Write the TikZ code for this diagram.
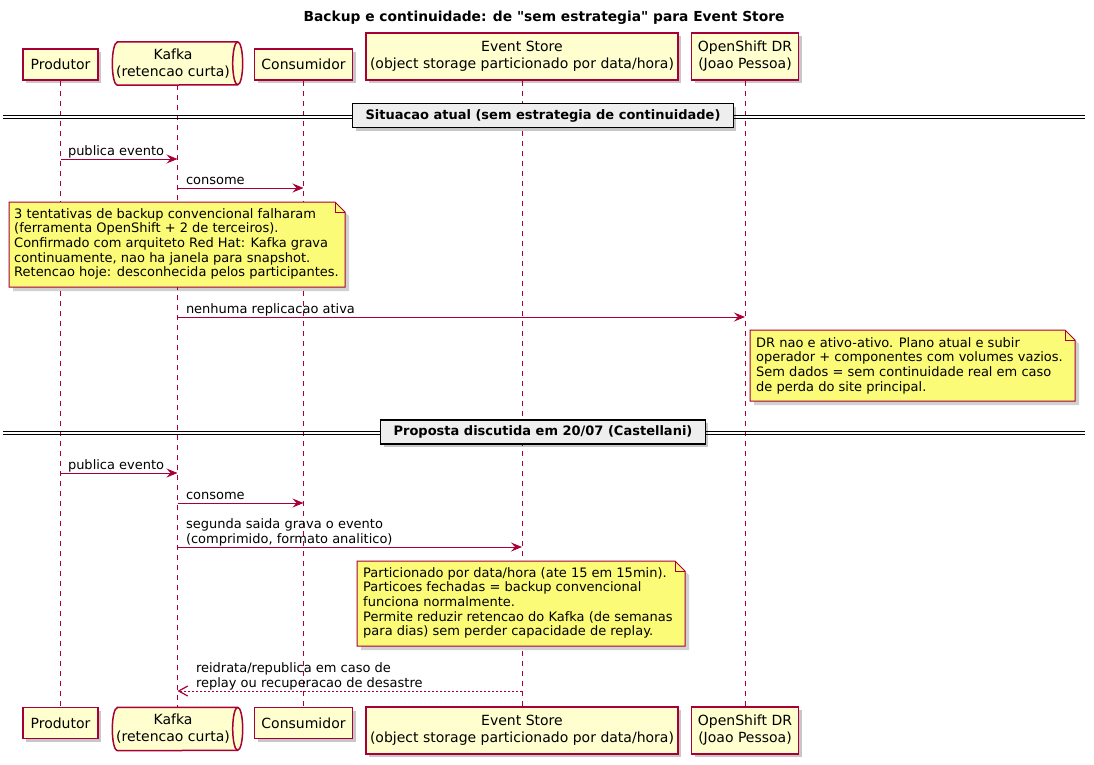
\documentclass[tikz,border=0pt]{standalone}
\usepackage{fontspec}
\setmainfont{DejaVu Sans}[Ligatures=TeXOff]
\usetikzlibrary{arrows.meta,shadows,calc}
\definecolor{pcol}{HTML}{A80036}
\definecolor{pfill}{HTML}{FEFECE}
\definecolor{nfill}{HTML}{FBFB77}
\definecolor{sfill}{HTML}{EEEEEE}
\newcommand\drawnote[4]{%
  \fill[black,opacity=.18] (#1+4,#2+4) -- (#3+4-10,#2+4) -- (#3+4,#2+4+10) -- (#3+4,#4+4) -- (#1+4,#4+4) -- cycle;
  \draw[notebox] (#1,#2) -- (#3-10,#2) -- (#3,#2+10) -- (#3,#4) -- (#1,#4) -- cycle;
  \draw[notebox,fill=none] (#3-10,#2) -- (#3-10,#2+10) -- (#3,#2+10);}
\newcommand\drawqueue[1]{%
  \fill[black,opacity=.2,shift={(3,3)}] ($(#1.north west)+(5,0)$) -- ($(#1.north east)+(-5,0)$) arc[start angle=-90,end angle=90,x radius=5,y radius=21.5] -- ($(#1.south west)+(5,0)$) arc[start angle=90,end angle=270,x radius=5,y radius=21.5] -- cycle;
  \draw[draw=pcol,fill=pfill,line width=1.5pt] ($(#1.north west)+(5,0)$) -- ($(#1.north east)+(-5,0)$) arc[start angle=-90,end angle=90,x radius=5,y radius=21.5] -- ($(#1.south west)+(5,0)$) arc[start angle=90,end angle=270,x radius=5,y radius=21.5] -- cycle;
  \draw[draw=pcol,line width=1.5pt] ($(#1.north east)+(-5,0)$) arc[start angle=270,end angle=90,x radius=5,y radius=21.5];}
\begin{document}
\begin{tikzpicture}[x=1pt,y=-1pt,
  pshadow/.style={drop shadow={shadow xshift=3pt,shadow yshift=-3pt,fill=black,opacity=0.22}},
  part/.style={draw=pcol,fill=pfill,line width=1.5pt,inner sep=0pt,align=center,font=\fontsize{14}{17}\selectfont,pshadow},
  ptext/.style={inner sep=0pt,align=center,font=\fontsize{14}{17}\selectfont},
  life/.style={draw=pcol,line width=1pt,dash pattern=on 5pt off 5pt},
  msg/.style={draw=pcol,line width=1pt,-{Stealth[length=11pt,width=9pt,inset=4pt]}},
  ret/.style={draw=pcol,line width=1pt,dash pattern=on 2pt off 2pt,-{Straight Barb[length=9pt,width=10pt,line width=1.2pt]}},
  lbl/.style={inner sep=0pt,align=left,font=\fontsize{13}{15}\selectfont,execute at end node=\strut,text=black},
  notebox/.style={draw=pcol,fill=nfill,line width=1pt},
  notetext/.style={inner sep=0pt,align=left,font=\fontsize{13}{14.7}\selectfont,execute at begin node=\strut,execute at end node=\strut},
  sepbox/.style={draw=black,fill=sfill,line width=1.5pt,inner xsep=13pt,inner ysep=0pt,minimum height=24pt,font=\bfseries\fontsize{13}{15}\selectfont,pshadow},
  sepline/.style={draw=black,line width=1pt}]
\useasboundingbox[fill=white] (0,0) rectangle (1094,764);

\node[font=\bfseries\fontsize{13.8}{17}\selectfont] (title) at (544,18) {Backup e continuidade: de "sem estrategia" para Event Store};

% participants top
\node[part,minimum width=75pt,minimum height=31pt] (prodT) at (60.5,64.5) {Produtor};
\node[inner sep=0pt,minimum width=130pt,minimum height=43pt] (kafT) at (177.5,63.5) {};
\drawqueue{kafT}
\node[ptext] (kafTt) at (173,63.5) {Kafka\\(retencao curta)};
\node[part,minimum width=98pt,minimum height=31pt] (consT) at (303.5,64.5) {Consumidor};
\node[part,minimum width=312pt,minimum height=47pt] (esT) at (522,56.5) {Event Store\\(object storage particionado por data/hora)};
\node[part,minimum width=107pt,minimum height=47pt] (drT) at (745,56.5) {OpenShift DR\\(Joao Pessoa)};

% participants bottom
\node[part,minimum width=75pt,minimum height=31pt] (prodB) at (60.5,723) {Produtor};
\node[inner sep=0pt,minimum width=130pt,minimum height=43pt] (kafB) at (177.5,729) {};
\drawqueue{kafB}
\node[ptext] (kafBt) at (173,729) {Kafka\\(retencao curta)};
\node[part,minimum width=98pt,minimum height=31pt] (consB) at (303.5,723) {Consumidor};
\node[part,minimum width=312pt,minimum height=47pt] (esB) at (522,730.5) {Event Store\\(object storage particionado por data/hora)};
\node[part,minimum width=107pt,minimum height=47pt] (drB) at (745,730.5) {OpenShift DR\\(Joao Pessoa)};

% lifelines
\draw[life] (prodT.south) -- (prodB.north);
\draw[life] (kafT.south) -- (kafB.north);
\draw[life] (consT.south) -- (consB.north);
\draw[life] (esT.south) -- (esB.north);
\draw[life] (drT.south) -- (drB.north);

% separator 1
\draw[sepline] (3,115) -- (1085,115);
\draw[sepline] (3,118.5) -- (1085,118.5);
\node[sepbox] (sep1) at (543,115.5) {Situacao atual (sem estrategia de continuidade)};

\coordinate (y1) at (0,159);
\coordinate (y2) at (0,188);
\coordinate (y3) at (0,317);
\draw[msg] (prodT.south |- y1) -- (kafT.south |- y1) node[lbl,pos=0,anchor=south west,xshift=7pt,yshift=-1pt] {publica evento};
\draw[msg] (kafT.south |- y2) -- (consT.south |- y2) node[lbl,pos=0,anchor=south west,xshift=8pt,yshift=-1pt] {consome};

\drawnote{9}{202}{345}{287}
\node[notetext,anchor=north west] (note1) at (14,208) {3 tentativas de backup convencional falharam\\(ferramenta OpenShift + 2 de terceiros).\\Confirmado com arquiteto Red Hat: Kafka grava\\continuamente, nao ha janela para snapshot.\\Retencao hoje: desconhecida pelos participantes.};

\draw[msg] (kafT.south |- y3) -- (drT.south |- y3) node[lbl,pos=0,anchor=south west,xshift=8pt,yshift=-1pt] {nenhuma replicacao ativa};

\drawnote{750}{330}{1075}{401}
\node[notetext,anchor=north west] (note2) at (756,337) {DR nao e ativo-ativo. Plano atual e subir\\operador + componentes com volumes vazios.\\Sem dados = sem continuidade real em caso\\de perda do site principal.};

% separator 2
\draw[sepline] (3,431) -- (1085,431);
\draw[sepline] (3,434.5) -- (1085,434.5);
\node[sepbox] (sep2) at (543,432) {Proposta discutida em 20/07 (Castellani)};

\coordinate (y4) at (0,473);
\coordinate (y5) at (0,503);
\coordinate (y6) at (0,547);
\coordinate (y7) at (0,691);
\draw[msg] (prodT.south |- y4) -- (kafT.south |- y4) node[lbl,pos=0,anchor=south west,xshift=7pt,yshift=-1pt] {publica evento};
\draw[msg] (kafT.south |- y5) -- (consT.south |- y5) node[lbl,pos=0,anchor=south west,xshift=8pt,yshift=-1pt] {consome};
\draw[msg] (kafT.south |- y6) -- (esT.south |- y6) node[lbl,pos=0,anchor=south west,xshift=8pt,yshift=-1pt] {segunda saida grava o evento\\(comprimido, formato analitico)};

\drawnote{357}{561}{685}{646}
\node[notetext,anchor=north west] (note3) at (363,567) {Particionado por data/hora (ate 15 em 15min).\\Particoes fechadas = backup convencional\\funciona normalmente.\\Permite reduzir retencao do Kafka (de semanas\\para dias) sem perder capacidade de replay.};

\draw[ret] (esT.south |- y7) -- (kafT.south |- y7) node[lbl,pos=1,anchor=south west,xshift=18pt,yshift=-1pt] {reidrata/republica em caso de\\replay ou recuperacao de desastre};
\end{tikzpicture}
\end{document}
